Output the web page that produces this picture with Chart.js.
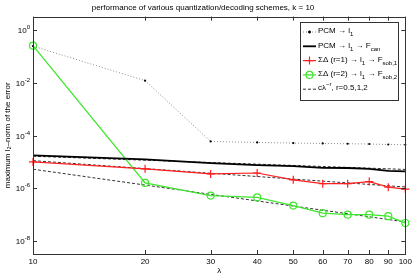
<!DOCTYPE html>
<html>
<head>
<meta charset="utf-8">
<script src="https://cdn.jsdelivr.net/npm/chart.js@4"></script>
<style>
	html, body { margin: 0; padding: 0; background: #fff; }
	#wrap { width: 415px; height: 277px; }
</style>
</head>
<body>
<div id="wrap"><canvas id="myChart" width="415" height="277"></canvas></div>
<script>
// data
const lambda = [10, 20, 30, 40, 50, 60, 70, 80, 90, 100]
const pcmL1 = [0.25, 0.0122, 6.0e-5, 5.5e-5, 5.2e-5, 5.05e-5, 4.9e-5, 4.8e-5, 4.6e-5, 4.5e-5]
const pcmFcan = [1.78e-5, 1.26e-5, 9.1e-6, 7.6e-6, 6.9e-6, 6.0e-6, 5.9e-6, 5.5e-6, 4.6e-6, 4.4e-6]
const sd1Sob = [1.0e-5, 5.5e-6, 3.5e-6, 3.8e-6, 2.1e-6, 1.5e-6, 1.5e-6, 1.8e-6, 1.1e-6, 9.3e-7]
const sd2Sob = [0.26, 1.6e-6, 5.3e-7, 4.5e-7, 2.2e-7, 1.14e-7, 1.0e-7, 1.0e-7, 8.7e-8, 4.8e-8]
// reference lines c*lambda^-r, end points only
const refLambda = [10, 100]
const refR05 = [1.65e-5, 5.2e-6]
const refR1 = [1.12e-5, 1.12e-6]
const refR2 = [5.3e-6, 5.3e-8]

const xTicks = [10, 20, 30, 40, 50, 60, 70, 80, 90, 100]
const yTicks = [1e-8, 1e-6, 1e-4, 1e-2, 1]
const yTickLabels = ["10^{-8}", "10^{-6}", "10^{-4}", "10^{-2}", "10^{0}"]

// labels use _{..} and ^{..} for sub/superscripts
const labels = [
	"PCM → l_{1}",
	"PCM → l_{1} → F_{can}",
	"ΣΔ (r=1) → l_{1} → F_{sob,1}",
	"ΣΔ (r=2) → l_{1} → F_{sob,2}",
	"cλ^{−r}, r=0.5,1,2",
]

const FONT = "'Liberation Sans', Arial, sans-serif"
const pts = (xs, ys) => xs.map((x, i) => ({ x: x, y: ys[i] }))

// split simple sub/superscript markup into pieces
function richParts(text, size) {
	return text.split(/([_^]\{[^}]*\})/).filter(p => p.length).map(p => {
		if (p[0] === "_") return { t: p.slice(2, -1), s: size * 0.75, dy: size * 0.45 }
		if (p[0] === "^") return { t: p.slice(2, -1), s: size * 0.75, dy: -size * 0.45 }
		return { t: p, s: size, dy: 0 }
	})
}

function drawRich(ctx, text, x, y, size, align) {
	const parts = richParts(text, size)
	ctx.textBaseline = "middle"
	ctx.textAlign = "left"
	if (align === "right") {
		let w = 0
		parts.forEach(p => { ctx.font = p.s + "px " + FONT; w += ctx.measureText(p.t).width })
		x -= w
	}
	parts.forEach(p => {
		ctx.font = p.s + "px " + FONT
		ctx.fillText(p.t, x, y + p.dy)
		x += ctx.measureText(p.t).width
	})
}

// matlab style frame, inward ticks, y labels and legend
const framePlugin = {
	id: "frame",
	afterDraw: c => {
		const ctx = c.ctx
		const a = c.chartArea
		const xs = c.scales.x
		const ys = c.scales.y
		ctx.save()
		ctx.strokeStyle = "#333"
		ctx.lineWidth = 1
		ctx.strokeRect(Math.round(a.left) + 0.5, Math.round(a.top) + 0.5, Math.round(a.right - a.left), Math.round(a.bottom - a.top))
		ctx.beginPath()
		xTicks.forEach(v => {
			const px = Math.round(xs.getPixelForValue(v)) + 0.5
			ctx.moveTo(px, a.bottom); ctx.lineTo(px, a.bottom - 4)
			ctx.moveTo(px, a.top); ctx.lineTo(px, a.top + 4)
		})
		yTicks.forEach(v => {
			const py = Math.round(ys.getPixelForValue(v)) + 0.5
			ctx.moveTo(a.left, py); ctx.lineTo(a.left + 4, py)
			ctx.moveTo(a.right, py); ctx.lineTo(a.right - 4, py)
		})
		ctx.stroke()

		// y tick labels with real superscripts
		ctx.fillStyle = "#000"
		yTicks.forEach((v, i) => {
			drawRich(ctx, yTickLabels[i], a.left - 3, ys.getPixelForValue(v) + 1, 8, "right")
		})

		// legend box
		const bx = 300, by = 22, bw = 98, bh = 78
		ctx.fillStyle = "#fff"
		ctx.fillRect(bx, by, bw, bh)
		ctx.strokeStyle = "#333"
		ctx.lineWidth = 1
		ctx.strokeRect(bx + 0.5, by + 0.5, bw, bh)
		c.data.datasets.forEach((ds, i) => {
			if (ds.hideInLegend) return
			const ry = 32 + i * 14.3
			ctx.strokeStyle = ds.borderColor
			ctx.lineWidth = ds.borderWidth
			ctx.setLineDash(ds.borderDash || [])
			ctx.beginPath()
			ctx.moveTo(303, ry); ctx.lineTo(316, ry)
			ctx.stroke()
			ctx.setLineDash([])
			if (ds.pointRadius > 0) {
				ctx.lineWidth = ds.pointBorderWidth || 1
				ctx.strokeStyle = ds.pointBorderColor || ds.borderColor
				ctx.beginPath()
				if (ds.pointStyle === "cross") {
					ctx.moveTo(309.5 - ds.pointRadius, ry); ctx.lineTo(309.5 + ds.pointRadius, ry)
					ctx.moveTo(309.5, ry - ds.pointRadius); ctx.lineTo(309.5, ry + ds.pointRadius)
					ctx.stroke()
				} else {
					ctx.arc(309.5, ry, ds.pointRadius, 0, Math.PI * 2)
					ctx.fillStyle = ds.pointBackgroundColor
					ctx.fill()
					ctx.stroke()
				}
			}
			ctx.fillStyle = "#000"
			drawRich(ctx, ds.label, 318, ry - 1, 8)
		})
		ctx.restore()
	},
}

const chart = document.querySelector("#myChart").getContext("2d")

const myChart = new Chart(chart, {
	type: "line",
	data: {
		datasets: [
			{
				label: labels[0],
				data: pts(lambda, pcmL1),
				borderColor: "#8a8a8a",
				borderWidth: 1,
				borderDash: [1, 2],
				pointRadius: 1.1,
				pointStyle: "circle",
				pointBackgroundColor: "#000",
				pointBorderColor: "#000",
				pointBorderWidth: 0,
			},
			{
				label: labels[1],
				data: pts(lambda, pcmFcan),
				borderColor: "#000",
				borderWidth: 1.8,
				pointRadius: 0,
			},
			{
				label: labels[2],
				data: pts(lambda, sd1Sob),
				borderColor: "#ff2020",
				borderWidth: 1.2,
				pointStyle: "cross",
				pointRadius: 4,
				pointBorderWidth: 1.2,
				pointBackgroundColor: "rgba(0,0,0,0)",
			},
			{
				label: labels[3],
				data: pts(lambda, sd2Sob),
				borderColor: "#3fe62e",
				borderWidth: 1.3,
				pointStyle: "circle",
				pointRadius: 3.5,
				pointBorderWidth: 1.2,
				pointBackgroundColor: "rgba(0,0,0,0)",
			},
			{
				label: labels[4],
				data: pts(refLambda, refR05),
				borderColor: "#333",
				borderWidth: 1,
				borderDash: [3, 2],
				pointRadius: 0,
			},
			{
				label: "r1",
				hideInLegend: true,
				data: pts(refLambda, refR1),
				borderColor: "#333",
				borderWidth: 1,
				borderDash: [3, 2],
				pointRadius: 0,
			},
			{
				label: "r2",
				hideInLegend: true,
				data: pts(refLambda, refR2),
				borderColor: "#333",
				borderWidth: 1,
				borderDash: [3, 2],
				pointRadius: 0,
			},
		],
	},
	options: {
		responsive: false,
		animation: false,
		events: [],
		clip: false,
		layout: { padding: { top: 0, right: 9, left: 0, bottom: 0 } },
		elements: { line: { tension: 0, fill: false } },
		plugins: {
			legend: { display: false },
			tooltip: { enabled: false },
			title: {
				display: true,
				text: "performance of various quantization/decoding schemes, k = 10",
				color: "#000",
				font: { family: FONT, size: 8, weight: "normal" },
				padding: { top: 3, bottom: 4 },
			},
		},
		scales: {
			x: {
				type: "logarithmic",
				min: 10,
				max: 100,
				afterBuildTicks: s => { s.ticks = xTicks.map(v => ({ value: v })) },
				afterFit: s => { s.height = 23 },
				ticks: {
					color: "#000",
					font: { family: FONT, size: 8 },
					padding: 3,
					maxRotation: 0,
					autoSkip: false,
					callback: v => String(v),
				},
				grid: { display: false, drawTicks: false },
				border: { display: false },
				title: {
					display: true,
					text: "λ",
					color: "#000",
					font: { family: FONT, size: 8 },
					padding: { top: 0, bottom: 1 },
				},
			},
			y: {
				type: "logarithmic",
				min: 3.2e-9,
				max: 3.3,
				afterBuildTicks: s => { s.ticks = yTicks.map(v => ({ value: v })) },
				afterFit: s => { s.width = 33 },
				ticks: { display: false },
				grid: { display: false, drawTicks: false },
				border: { display: false },
				title: {
					display: true,
					text: "maximum l₂–norm of the error",
					color: "#000",
					font: { family: FONT, size: 8 },
					padding: { top: 3, bottom: 0 },
				},
			},
		},
	},
	plugins: [framePlugin],
})
</script>
</body>
</html>
